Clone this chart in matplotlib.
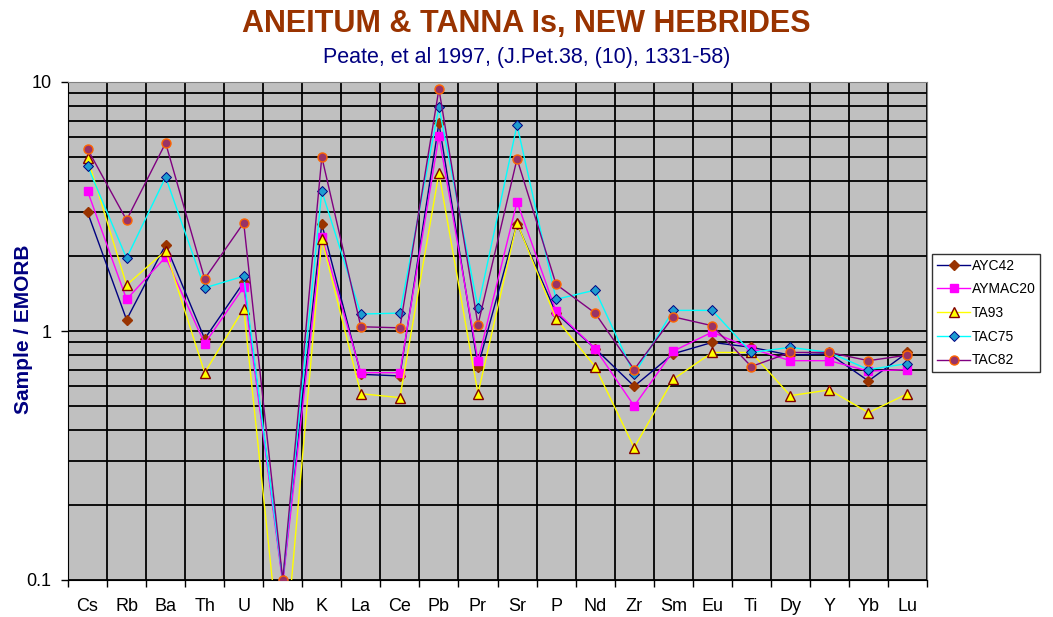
import matplotlib
matplotlib.use("Agg")
from matplotlib import pyplot as plt
from matplotlib.ticker import LogLocator, FixedLocator, NullFormatter
import numpy as np

plt.rcParams['font.family'] = ['Liberation Sans', 'DejaVu Sans']

elements = ["Cs", "Rb", "Ba", "Th", "U", "Nb", "K", "La", "Ce", "Pb", "Pr",
            "Sr", "P", "Nd", "Zr", "Sm", "Eu", "Ti", "Dy", "Y", "Yb", "Lu"]

ayc42 = [3.0, 1.11, 2.22, 0.93, 1.57, 0.10, 2.69, 0.67, 0.66, 6.84, 0.72,
         2.70, 1.18, 0.85, 0.60, 0.81, 0.90, 0.86, 0.80, 0.81, 0.63, 0.82]
aymac20 = [3.65, 1.34, 1.98, 0.89, 1.50, 0.097, 2.39, 0.68, 0.68, 6.07, 0.76,
           3.30, 1.20, 0.85, 0.50, 0.83, 0.99, 0.85, 0.76, 0.76, 0.69, 0.70]
ta93 = [4.95, 1.53, 2.10, 0.68, 1.23, 0.04, 2.34, 0.56, 0.54, 4.31, 0.56,
        2.72, 1.12, 0.72, 0.34, 0.64, 0.82, 0.82, 0.55, 0.58, 0.47, 0.56]
tac75 = [4.60, 1.96, 4.15, 1.49, 1.66, 0.10, 3.65, 1.17, 1.18, 7.94, 1.24,
         6.72, 1.34, 1.46, 0.67, 1.21, 1.21, 0.82, 0.86, 0.82, 0.70, 0.74]
tac82 = [5.38, 2.79, 5.69, 1.62, 2.72, 0.10, 5.00, 1.04, 1.03, 9.37, 1.06,
         4.91, 1.54, 1.18, 0.70, 1.14, 1.05, 0.72, 0.82, 0.82, 0.76, 0.80]

fig = plt.figure(figsize=(10.53, 6.17), dpi=100)
ax = fig.add_axes([68 / 1053, 1 - 580 / 617, 859 / 1053, 498 / 617])
ax.set_facecolor("#C0C0C0")

x = np.arange(len(elements))
ax.plot(x, ayc42, color="#000080", lw=1, marker="D", ms=5.5,
        mfc="#993300", mec="#993300", label="AYC42", zorder=3)
ax.plot(x, aymac20, color="#FF00FF", lw=1, marker="s", ms=6,
        mfc="#FF00FF", mec="#FF00FF", label="AYMAC20", zorder=3)
ax.plot(x, ta93, color="#FFFF00", lw=1, marker="^", ms=7.5,
        mfc="#FFFF00", mec="#800000", mew=1, label="TA93", zorder=3)
ax.plot(x, tac75, color="#00FFFF", lw=1, marker="D", ms=5.5,
        mfc="#1E9CD0", mec="#000080", mew=0.7, label="TAC75", zorder=3)
ax.plot(x, tac82, color="#800080", lw=1, marker="o", ms=6.5,
        mfc="#993366", mec="#FF6600", mew=1, label="TAC82", zorder=3)

ax.set_yscale("log")
ax.set_ylim(0.1, 10)
ax.set_xlim(-0.5, len(elements) - 0.5)

ax.yaxis.set_major_locator(FixedLocator([0.1, 1, 10]))
ax.set_yticklabels(["0.1", "1", "10"], fontsize=13)
ax.yaxis.set_minor_locator(LogLocator(base=10, subs=np.arange(2, 10)))
ax.yaxis.set_minor_formatter(NullFormatter())
ax.tick_params(axis="y", which="major", length=5, width=1, direction="out", pad=7)
ax.tick_params(axis="y", which="minor", length=0)

ax.set_xticks(x)
ax.set_xticklabels(elements, fontsize=13)
ax.set_xticks(np.arange(len(elements) + 1) - 0.5, minor=True)
ax.tick_params(axis="x", which="major", length=0, pad=13)
ax.tick_params(axis="x", which="minor", length=5, width=1, direction="out")

ax.grid(True, which="both", axis="y", color="black", lw=1.3)
ax.grid(True, which="minor", axis="x", color="black", lw=1.3)
ax.set_axisbelow(True)

for side in ["top", "right"]:
    ax.spines[side].set_color("#808080")
for side in ["left", "bottom"]:
    ax.spines[side].set_color("black")

fig.text(24 / 1053, 1 - 329 / 617, "Sample / EMORB", rotation=90, ha="center", va="center",
         fontsize=15, fontweight="bold", color="#000080")

fig.text(0.5, 1 - 24 / 617, "ANEITUM & TANNA Is, NEW HEBRIDES", ha="center", va="center",
         fontsize=22, fontweight="bold", color="#993300")
fig.text(0.5, 1 - 58 / 617, "Peate, et al 1997, (J.Pet.38, (10), 1331-58)", ha="center",
         va="center", fontsize=15.5, color="#000080")

leg = fig.legend(loc="center left", bbox_to_anchor=(932 / 1053, 1 - 313 / 617),
                 fontsize=10, frameon=True, fancybox=False, edgecolor="black",
                 borderpad=0.35, labelspacing=0.7, handlelength=2.4, handletextpad=0.1,
                 borderaxespad=0)
leg.get_frame().set_linewidth(1)

fig.savefig("out.png", dpi=100)
